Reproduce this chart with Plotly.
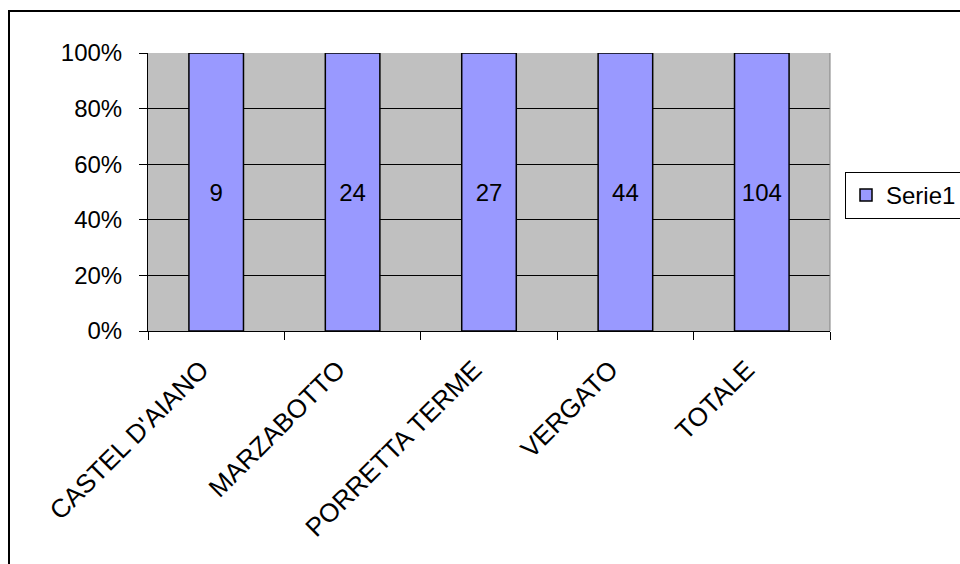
import plotly.graph_objects as go

categories = ["CASTEL D'AIANO", "MARZABOTTO", "PORRETTA TERME", "VERGATO", "TOTALE"]
values = [9, 24, 27, 44, 104]
series_name = "Serie1"
y_ticks = [0, 20, 40, 60, 80, 100]
y_tick_labels = [f"{v}%" for v in y_ticks]

FONT = "Liberation Sans, Arial, sans-serif"
FS = 24

fig = go.Figure()
fig.add_trace(go.Bar(
    x=categories, y=values, name=series_name,
    text=[str(v) for v in values], textposition="inside",
    insidetextanchor="middle", textangle=0,
    textfont=dict(family=FONT, size=FS, color="black"),
    marker=dict(color="#9999FF", line=dict(color="black", width=1.5)),
    width=0.4,
))

L, R, T, B = 148, 130, 53, 233
W, H = 960, 564
pw, ph = W - L - R, H - T - B

def px(x):
    return (x - L) / pw

def py(y):
    return (H - B - y) / ph

fig.update_layout(
    width=W, height=H,
    margin=dict(l=L, r=R, t=T, b=B, pad=0, autoexpand=False),
    barmode="stack", barnorm="percent",
    plot_bgcolor="#C0C0C0", paper_bgcolor="white",
    font=dict(family=FONT, size=FS, color="black"),
    showlegend=True,
    legend=dict(
        x=px(845), y=py(172), xanchor="left", yanchor="top",
        bgcolor="white", bordercolor="black", borderwidth=1,
        font=dict(family=FONT, size=FS, color="black"),
        itemwidth=30,
    ),
    xaxis=dict(
        type="category", tickangle=-45, tickson="boundaries",
        ticks="outside", ticklen=8, tickcolor="black", tickwidth=1,
        showline=True, linecolor="black", linewidth=1, mirror=False,
        showgrid=False, tickfont=dict(family=FONT, size=26),
        ticklabelstandoff=12, ticklabelshift=-15,
    ),
    yaxis=dict(
        range=[0, 100], tickvals=y_ticks, ticktext=y_tick_labels,
        ticks="outside", ticklen=8, tickcolor="black", tickwidth=1,
        showline=True, linecolor="black", linewidth=1,
        showgrid=True, gridcolor="black", gridwidth=1,
        zeroline=False, tickfont=dict(family=FONT, size=FS),
        ticklabelstandoff=12,
    ),
    shapes=[
        dict(type="rect", xref="paper", yref="paper",
             x0=px(9), x1=px(1000), y0=py(11), y1=py(600),
             line=dict(color="black", width=2), fillcolor="rgba(0,0,0,0)",
             layer="below"),
        dict(type="line", xref="paper", yref="paper",
             x0=1, x1=1, y0=0, y1=1,
             line=dict(color="#808080", width=1)),
    ],
)

fig.write_html("out.html")
